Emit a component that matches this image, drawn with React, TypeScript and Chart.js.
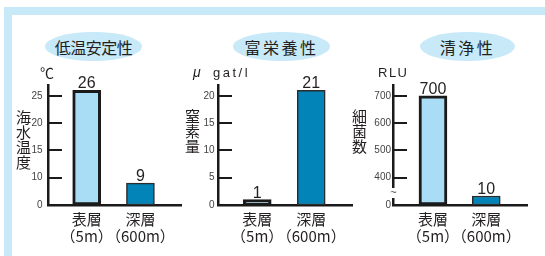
import React, { useEffect, useRef } from 'react';
import { Chart, registerables, LinearScale } from 'chart.js';

// ---------- data ----------
const panelTitles = ['低温安定性', '富栄養性', '清浄性'];
const categories = ['表層', '深層'];
const depthLabels = ['（5m）', '（600m）'];

const temperature = [26, 9];
const nitrogen = [1, 21];
const bacteria = [700, 10];

const temperatureTicks = [0, 10, 15, 20, 25];
const nitrogenTicks = [0, 5, 10, 15, 20];
const bacteriaTicks = [0, 400, 500, 600, 700];

// axis ranges (broken axes: the part between 0 and the cut is omitted)
const temperatureAxis = { cut: 5, max: 27 };
const nitrogenAxis = { cut: 0, max: 22 };
const bacteriaAxis = { cut: 300, max: 740 };

const yTitles = ['海水温度', '窒素量', '細菌数'];
const units = ['℃', 'μ gat/l', 'RLU'];

// ---------- styles ----------
const LIGHT = '#a9dcf5';
const DARK = '#0284b8';
const FRAME = '#c7e9f8';
const INK = '#231f20';
const TICK_INK = '#444444';
const JP = '"Noto Sans CJK JP", "Noto Sans", sans-serif';
const LAT = '"Liberation Sans", Arial, sans-serif';

class BrokenScale extends LinearScale {
  static id = 'broken';
  buildTicks() {
    const vals = ((this.options as any).tickValues || []) as number[];
    return vals.map((v) => ({ value: v }));
  }
  getPixelForValue(value: any) {
    if (value === null || value === undefined || isNaN(value)) return NaN;
    const cut = (this.options as any).cut || 0;
    const p = Math.max(value, cut);
    return this.getPixelForDecimal((p - cut) / (this.max - cut));
  }
  getValueForPixel(pixel: number) {
    const cut = (this.options as any).cut || 0;
    return cut + this.getDecimalForPixel(pixel) * (this.max - cut);
  }
}

Chart.register(...registerables, BrokenScale as any);

type Panel = {
  values: number[];
  ticks: number[];
  axis: { cut: number; max: number };
  unit: string;
  yTitle: string;
  layout: {
    axisX: number; rightX: number; gap: number; xMin: number; xMax: number;
    unitX: number; yTitleX: number; yTitleY: number; breakMark: boolean; minBar: number;
  };
};

const panels: Panel[] = [
  {
    values: temperature, ticks: temperatureTicks, axis: temperatureAxis, unit: units[0], yTitle: yTitles[0],
    layout: { axisX: 48, rightX: 181, gap: 5.5, xMin: -0.72, xMax: 1.755, unitX: 40, yTitleX: 23.5, yTitleY: 117.5, breakMark: false, minBar: 0 },
  },
  {
    values: nitrogen, ticks: nitrogenTicks, axis: nitrogenAxis, unit: units[1], yTitle: yTitles[1],
    layout: { axisX: 218, rightX: 352, gap: 3.5, xMin: -0.726, xMax: 1.755, unitX: 193, yTitleX: 192.5, yTitleY: 116, breakMark: false, minBar: 0 },
  },
  {
    values: bacteria, ticks: bacteriaTicks, axis: bacteriaAxis, unit: units[2], yTitle: yTitles[2],
    layout: { axisX: 393, rightX: 527, gap: 2, xMin: -0.75, xMax: 1.765, unitX: 378, yTitleX: 359.5, yTitleY: 116, breakMark: true, minBar: 9 },
  },
];

const titleBoxes = [
  { left: 45, width: 97, spacing: -0.5 },
  { left: 233, width: 97, spacing: 2.5 },
  { left: 420, width: 95, spacing: 2.5 },
];

const annotations = (p: Panel) => ({
  id: 'panelAnnotations',
  afterDraw(chart: any) {
    const ctx = chart.ctx as CanvasRenderingContext2D;
    const L = p.layout;
    const area = chart.chartArea;
    ctx.save();

    // axis break mark
    if (L.breakMark) {
      const x = area.left;
      const yb = area.bottom;
      ctx.clearRect(x - 3, yb - 17, 6, 10);
      ctx.fillStyle = TICK_INK;
      ctx.font = `11px ${LAT}`;
      ctx.textAlign = 'center';
      ctx.textBaseline = 'middle';
      ctx.fillText('~', x + 0.5, yb - 12);
    }

    // value labels
    const meta = chart.getDatasetMeta(0);
    ctx.fillStyle = INK;
    ctx.font = `16px ${LAT}`;
    ctx.textAlign = 'center';
    ctx.textBaseline = 'alphabetic';
    meta.data.forEach((el: any, i: number) => {
      const { x, y } = el.getProps(['x', 'y'], true);
      ctx.fillText(String(p.values[i]), x, y - 2);
    });

    // unit
    ctx.textAlign = 'left';
    ctx.textBaseline = 'alphabetic';
    if (p.unit === '℃') {
      ctx.font = `14px ${JP}`;
      ctx.fillText(p.unit, L.unitX, 77.5);
    } else if (p.unit.indexOf(' ') > 0) {
      const [a, b] = p.unit.split(' ');
      ctx.font = `italic 14px ${LAT}`;
      ctx.fillText(a, L.unitX, 76.5);
      ctx.font = `13px ${LAT}`;
      (ctx as any).letterSpacing = '2.5px';
      ctx.fillText(b, L.unitX + 20, 76.5);
      (ctx as any).letterSpacing = '0px';
    } else {
      ctx.font = `13px ${LAT}`;
      (ctx as any).letterSpacing = '1.5px';
      ctx.fillText(p.unit, L.unitX, 77);
      (ctx as any).letterSpacing = '0px';
    }

    // vertical y title
    ctx.font = `15px ${JP}`;
    ctx.textAlign = 'center';
    ctx.textBaseline = 'middle';
    Array.from(p.yTitle).forEach((ch, i) => {
      ctx.fillText(ch, L.yTitleX, L.yTitleY + i * 15);
    });

    ctx.restore();
  },
});

function makeChart(canvas: HTMLCanvasElement, p: Panel) {
  const L = p.layout;
  return new Chart(canvas, {
    type: 'bar',
    data: {
      datasets: [
        {
          data: p.values.map((v, i) => ({ x: i, y: v })),
          backgroundColor: [LIGHT, DARK],
          borderColor: ['#1a1a1a', '#2b2b2b'],
          borderWidth: [3, 1.5],
          borderSkipped: false,
          barThickness: 28,
          minBarLength: L.minBar,
        } as any,
      ],
    },
    options: {
      animation: false,
      responsive: false,
      maintainAspectRatio: false,
      devicePixelRatio: 1,
      events: [],
      layout: { padding: { left: L.axisX - 40, right: 545 - L.rightX, top: 85, bottom: 11 } },
      plugins: { legend: { display: false }, tooltip: { enabled: false }, title: { display: false } },
      scales: {
        x: {
          type: 'linear',
          min: L.xMin,
          max: L.xMax,
          bounds: 'data',
          offset: false,
          grid: { display: false, drawTicks: false, offset: false },
          border: { display: true, width: 2.5, color: '#1a1a1a' },
          afterBuildTicks: (s: any) => {
            s.ticks = categories.map((_, i) => ({ value: i }));
          },
          afterFit: (s: any) => {
            s.height = 40;
          },
          ticks: {
            autoSkip: false,
            maxRotation: 0,
            padding: 6,
            color: INK,
            font: { family: JP, size: 15, lineHeight: '17px' },
            callback: (v: any) => [categories[v], depthLabels[v]],
          },
        } as any,
        y: {
          type: 'broken',
          min: 0,
          max: p.axis.max,
          cut: p.axis.cut,
          tickValues: p.ticks,
          grid: {
            display: true,
            drawOnChartArea: false,
            drawTicks: true,
            lineWidth: 0,
            tickLength: -14,
            tickWidth: 2,
            tickColor: '#1a1a1a',
          },
          border: { display: true, width: 2.5, color: '#1a1a1a' },
          afterFit: (s: any) => {
            s.width = 40;
          },
          ticks: {
            padding: 14 + L.gap,
            color: TICK_INK,
            font: { family: LAT, size: 10 },
            callback: (v: any) => String(v),
          },
        } as any,
      },
    },
    plugins: [annotations(p)],
  } as any);
}

export default function App() {
  const r0 = useRef<HTMLCanvasElement>(null);
  const r1 = useRef<HTMLCanvasElement>(null);
  const r2 = useRef<HTMLCanvasElement>(null);

  useEffect(() => {
    const refs = [r0, r1, r2];
    const charts = panels.map((p, i) => makeChart(refs[i].current as HTMLCanvasElement, p));
    return () => charts.forEach((c) => c.destroy());
  }, []);

  return (
    <div style={{ position: 'absolute', left: 0, top: 0, width: 545, height: 256, background: '#fff', overflow: 'hidden' }}>
      <div style={{ position: 'absolute', left: 4, top: 7, width: 541, height: 8, background: FRAME }} />
      <div style={{ position: 'absolute', left: 4, top: 7, width: 8, height: 249, background: FRAME }} />
      {panelTitles.map((t, i) => (
        <div
          key={t}
          style={{
            position: 'absolute',
            left: titleBoxes[i].left,
            top: 32,
            width: titleBoxes[i].width,
            height: 29,
            borderRadius: '50%',
            background: FRAME,
            display: 'flex',
            alignItems: 'center',
            justifyContent: 'center',
            fontFamily: JP,
            fontSize: 16,
            letterSpacing: titleBoxes[i].spacing,
            color: INK,
            lineHeight: 1,
          }}
        >
          {t}
        </div>
      ))}
      {[r0, r1, r2].map((r, i) => (
        <canvas key={i} ref={r} width={545} height={256} style={{ position: 'absolute', left: 0, top: 0, width: 545, height: 256 }} />
      ))}
    </div>
  );
}
